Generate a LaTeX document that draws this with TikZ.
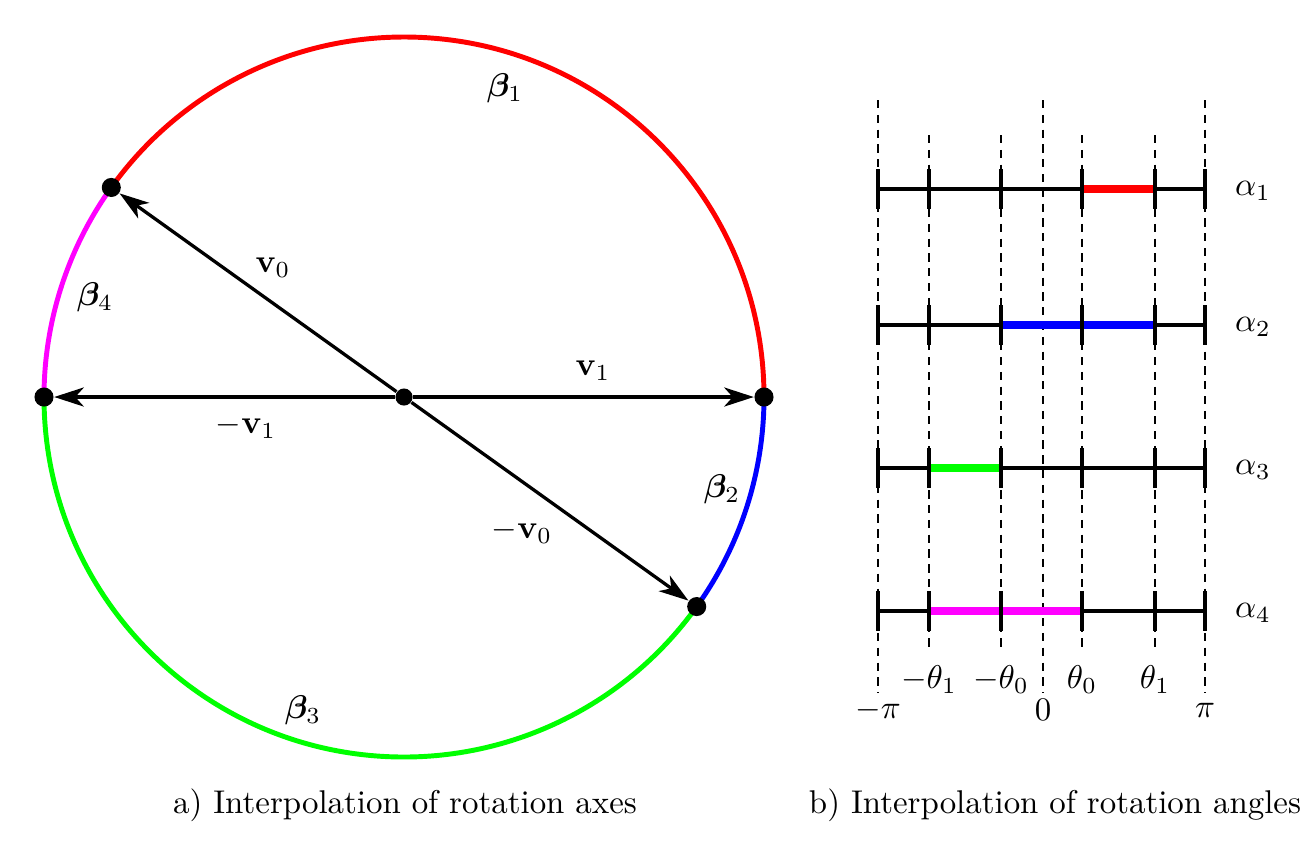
\documentclass[tikz,border=0pt]{standalone}
\usepackage{amsmath,bm}
\usetikzlibrary{arrows.meta,calc}
\definecolor{mag}{RGB}{255,0,255}
\definecolor{grn}{RGB}{0,255,0}
\definecolor{rd}{RGB}{255,0,0}
\definecolor{bl}{RGB}{0,0,255}
\begin{document}
\begin{tikzpicture}[x=0.304pt,y=0.304pt,
  arcline/.style={line width=1.5pt},
  vec/.style={line width=1pt,-{Stealth[length=9pt,width=5.8pt,inset=2.6pt]}},
  dot/.style={circle,fill=black,inner sep=0pt,minimum size=5.8pt},
  cdot/.style={circle,fill=black,inner sep=0pt,minimum size=5.2pt},
  guide/.style={line width=0.6pt,dash pattern=on 2.5pt off 2pt},
  axisline/.style={line width=1pt},
  tickmark/.style={line width=1.4pt},
  seg/.style={line width=2.5pt},
  lbl/.style={inner sep=0pt}]
\useasboundingbox (0,0) rectangle (1306,-840);
\coordinate (C) at (404,-397);
% circle arcs
\draw[arcline,rd] (C) ++(0:360) arc[start angle=0,end angle=144.4,radius=360];
\draw[arcline,mag] (C) ++(144.4:360) arc[start angle=144.4,end angle=180,radius=360];
\draw[arcline,grn] (C) ++(180:360) arc[start angle=180,end angle=324.4,radius=360];
\draw[arcline,bl] (C) ++(324.4:360) arc[start angle=324.4,end angle=360,radius=360];
% dots
\node[cdot] (c) at (C) {};
\node[dot] (p0) at ($(C)+(144.4:360)$) {};
\node[dot] (m0) at ($(C)+(324.4:360)$) {};
\node[dot] (p1) at ($(C)+(0:360)$) {};
\node[dot] (m1) at ($(C)+(180:360)$) {};
% vectors
\draw[vec] (c) -- (p0);
\draw[vec] (c) -- (m0);
\draw[vec] (c) -- (p1);
\draw[vec] (c) -- (m1);
% labels
\node[lbl] (b1) at (505,-88) {$\boldsymbol{\beta}_1$};
\node[lbl] (b2) at (722,-489) {$\boldsymbol{\beta}_2$};
\node[lbl] (b3) at (303,-710) {$\boldsymbol{\beta}_3$};
\node[lbl] (b4) at (95,-297) {$\boldsymbol{\beta}_4$};
\node[lbl] (lv0) at (273,-268) {$\mathbf{v}_0$};
\node[lbl] (lv1) at (593,-371) {$\mathbf{v}_1$};
\node[lbl] (lmv1) at (246,-426) {$-\mathbf{v}_1$};
\node[lbl] (lmv0) at (522,-531) {$-\mathbf{v}_0$};
% right panel: guides
\foreach \x in {878,1043,1205} \draw[guide] (\x,-100) -- (\x,-693);
\foreach \x in {929,1001,1082,1155} \draw[guide] (\x,-135) -- (\x,-652);
% rows
\foreach \y/\a/\b/\col/\i in {189/1082/1155/rd/1, 325/1001/1155/bl/2, 468/929/1001/grn/3, 611/929/1082/mag/4}{
  \draw[axisline] (878,-\y) -- (1205,-\y);
  \draw[seg,\col] (\a,-\y) -- (\b,-\y);
  \foreach \x in {878,929,1001,1082,1155,1205} \draw[tickmark] (\x,-\y+20) -- (\x,-\y-20);
  \node[lbl] at (1253,-\y-2) {$\alpha_{\i}$};
}
% tick labels
\node[lbl] (tm1) at (929,-680) {$-\theta_1$};
\node[lbl] (tm0) at (1001,-680) {$-\theta_0$};
\node[lbl] (tp0) at (1082,-680) {$\theta_0$};
\node[lbl] (tp1) at (1155,-680) {$\theta_1$};
\node[lbl] (tmpi) at (878,-710) {$-\pi$};
\node[lbl] (tz) at (1043,-710) {$0$};
\node[lbl] (tpi) at (1205,-710) {$\pi$};
% captions
\node[lbl] (capa) at (405,-805) {a) Interpolation of rotation axes};
\node[lbl] (capb) at (1055,-805) {b) Interpolation of rotation angles};
\end{tikzpicture}
\end{document}
